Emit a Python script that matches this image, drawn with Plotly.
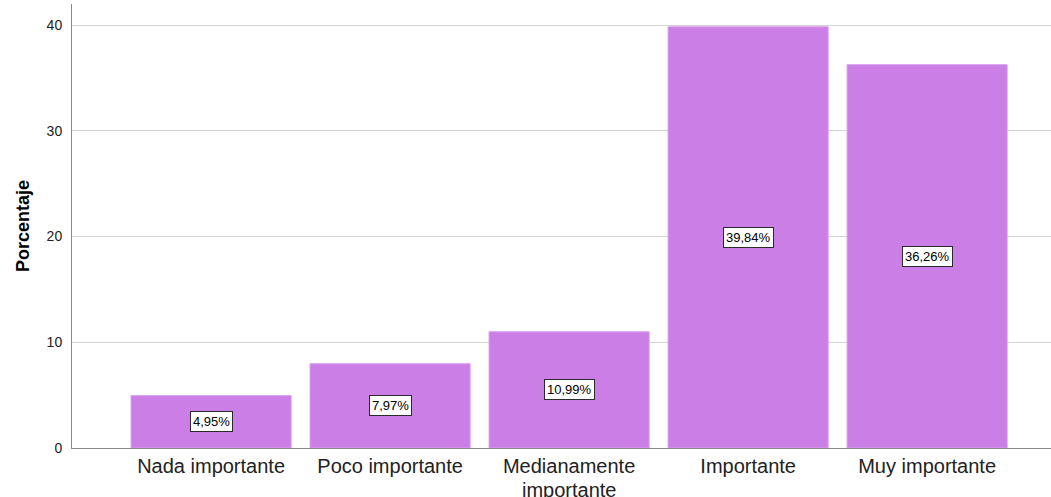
import plotly.graph_objects as go

categories = ["Nada importante", "Poco importante", "Medianamente importante", "Importante", "Muy importante"]
percentages = [4.95, 7.97, 10.99, 39.84, 36.26]
y_ticks = [0, 10, 20, 30, 40]

BAR_COLOR = "#CB7EE5"
FONT = "Liberation Sans, Arial, sans-serif"

x_pos = list(range(len(categories)))

# The long category wraps onto a second, tighter line (as in the reference)
first_lines = []
second_lines = []
for c in categories:
    if len(c) > 20:
        a, b = c.split(" ", 1)
        first_lines.append(a)
        second_lines.append(b)
    else:
        first_lines.append(c)
        second_lines.append("")

fig = go.Figure()
fig.add_trace(go.Bar(
    x=x_pos,
    y=percentages,
    width=0.894,
    marker=dict(color=BAR_COLOR, line=dict(color="#D99AEE", width=1)),
    hoverinfo="skip",
))

for xi, v in zip(x_pos, percentages):
    fig.add_annotation(
        x=xi, y=v / 2, xref="x", yref="y",
        text=f"{v:.2f}".replace(".", ",") + "%",
        showarrow=False,
        font=dict(family=FONT, size=13, color="black"),
        bgcolor="white", bordercolor="#2a2a2a", borderwidth=1, borderpad=2,
    )

for xi, t in zip(x_pos, second_lines):
    if t:
        fig.add_annotation(
            x=xi, y=0, xref="x", yref="paper",
            yanchor="top", yshift=-29,
            text=t, showarrow=False,
            font=dict(family=FONT, size=20, color="#222222"),
        )

fig.update_layout(
    width=1051, height=497,
    margin=dict(l=72, r=0, t=4, b=49),
    paper_bgcolor="white", plot_bgcolor="white",
    showlegend=False,
    font=dict(family=FONT, color="#222222"),
)
fig.update_xaxes(
    tickmode="array", tickvals=x_pos, ticktext=first_lines,
    range=[-0.777, 4.692],
    showgrid=False, zeroline=False, automargin=False,
    showline=True, linecolor="#8a8a8a", linewidth=1,
    ticks="", tickfont=dict(family=FONT, size=20, color="#222222"),
)
fig.update_yaxes(
    range=[0, 42], tickmode="array", tickvals=y_ticks,
    showgrid=True, gridcolor="#d4d4d4", gridwidth=1,
    zeroline=False, automargin=False,
    showline=True, linecolor="#8a8a8a", linewidth=1,
    ticks="", ticklabelstandoff=6,
    tickfont=dict(family=FONT, size=14, color="#222222"),
    title=dict(text="<b>Porcentaje</b>", font=dict(family=FONT, size=18, color="black"), standoff=12),
)

fig.write_html(
    "out.html",
    config={"displayModeBar": False},
    post_script="document.body.style.margin='0';document.body.style.overflow='hidden';",
)
